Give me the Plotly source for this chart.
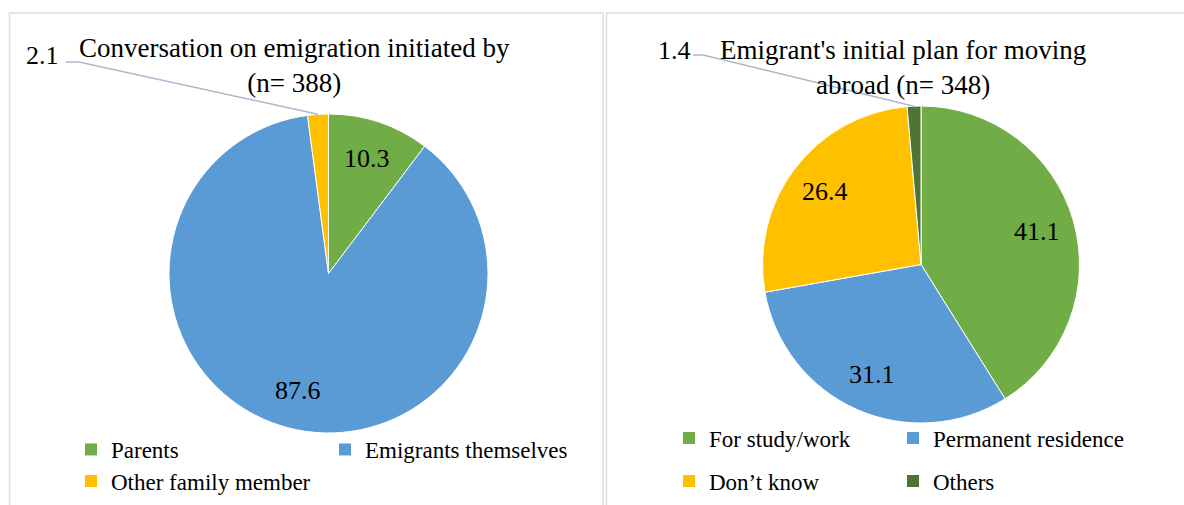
import math
import plotly.graph_objects as go

# ---- data ----
left_title = "Conversation on emigration initiated by<br>(n= 388)"
left_labels = ["Parents", "Emigrants themselves", "Other family member"]
left_values = [10.3, 87.6, 2.1]
left_colors = ["#70AD47", "#5B9BD5", "#FFC000"]

right_title = "Emigrant's initial plan for moving<br>abroad (n= 348)"
right_labels = ["For study/work", "Permanent residence", "Don’t know", "Others"]
right_values = [41.1, 31.1, 26.4, 1.4]
right_colors = ["#70AD47", "#5B9BD5", "#FFC000", "#4E7535"]

# ---- canvas ----
W, H = 1184, 505
FONT = "Liberation Serif, Times New Roman, serif"
LEADER = "#AAB8CC"
BORDER = "#DADFE7"


def px_x(x):
    return x / W


def px_y(y):
    return 1 - y / H


def pie_domain(cx, cy, r):
    return dict(x=[px_x(cx - r), px_x(cx + r)], y=[px_y(cy + r), px_y(cy - r)])


def slice_point(values, i, cx, cy, r, k):
    """Point at fraction k of the radius on the bisector of slice i
    (clockwise from 12 o'clock)."""
    total = sum(values)
    start = sum(values[:i])
    theta = (start + values[i] / 2) / total * 2 * math.pi
    return cx + k * r * math.sin(theta), cy - k * r * math.cos(theta)


fig = go.Figure()

# panel frames
shapes = [
    dict(type="rect", xref="paper", yref="paper", layer="below",
         x0=px_x(9.5), x1=px_x(603), y0=px_y(13), y1=px_y(520),
         line=dict(color=BORDER, width=1.5), fillcolor="rgba(0,0,0,0)"),
    dict(type="rect", xref="paper", yref="paper", layer="below",
         x0=px_x(606.5), x1=px_x(1200), y0=px_y(13), y1=px_y(520),
         line=dict(color=BORDER, width=1.5), fillcolor="rgba(0,0,0,0)"),
]
annotations = []

charts = [
    dict(title=left_title, labels=left_labels, values=left_values,
         colors=left_colors, cx=328.5, cy=273.5, r=159.5,
         title_xy=(294, 65), small_label_xy=(43, 56),
         leader_start=(66, 62), leader_knee=(79, 62),
         legends=[("legend", [0, 1], 71, 449.5), ("legend2", [2], 71, 481)],
         entrywidth=209),
    dict(title=right_title, labels=right_labels, values=right_values,
         colors=right_colors, cx=921, cy=264.5, r=158.5,
         title_xy=(903, 67), small_label_xy=(674, 51),
         leader_start=(693, 55), leader_knee=(703, 55),
         legends=[("legend3", [0, 1], 669, 438), ("legend4", [2, 3], 669, 481)],
         entrywidth=179),
]

for ch in charts:
    vals = ch["values"]
    fig.add_trace(go.Pie(
        labels=ch["labels"], values=vals, sort=False, direction="clockwise",
        rotation=0, domain=pie_domain(ch["cx"], ch["cy"], ch["r"]),
        marker=dict(colors=ch["colors"], line=dict(color="white", width=1)),
        textinfo="none", hoverinfo="label+value", showlegend=False,
    ))

    # chart title
    tx, ty = ch["title_xy"]
    annotations.append(dict(
        text=ch["title"], x=px_x(tx), y=px_y(ty), xref="paper", yref="paper",
        xanchor="center", yanchor="middle", showarrow=False,
        font=dict(family=FONT, size=27, color="black")))

    # value labels: large slices inside, the smallest one outside with a leader
    small = vals.index(min(vals))
    for i, v in enumerate(vals):
        if i == small:
            continue
        lx, ly = slice_point(vals, i, ch["cx"], ch["cy"], ch["r"], 0.76)
        annotations.append(dict(
            text=f"{v:.1f}", x=px_x(lx), y=px_y(ly), xref="paper", yref="paper",
            xanchor="center", yanchor="middle", showarrow=False,
            font=dict(family=FONT, size=26, color="black")))

    sx, sy = ch["small_label_xy"]
    annotations.append(dict(
        text=f"{vals[small]:.1f}", x=px_x(sx), y=px_y(sy), xref="paper",
        yref="paper", xanchor="center", yanchor="middle", showarrow=False,
        font=dict(family=FONT, size=26, color="black")))
    ex, ey = slice_point(vals, small, ch["cx"], ch["cy"], ch["r"], 1.0)
    (ax, ay), (kx, ky) = ch["leader_start"], ch["leader_knee"]
    shapes.append(dict(
        type="path", xref="paper", yref="paper",
        path=(f"M {px_x(ax)} {px_y(ay)} L {px_x(kx)} {px_y(ky)} "
              f"L {px_x(ex)} {px_y(ey)}"),
        line=dict(color=LEADER, width=1.5)))

    # legend entries, one legend per row; the last entry of a row gets
    # enough room for its full text while staying inside the page
    for legend_id, idxs, lx, ly in ch["legends"]:
        for n, i in enumerate(idxs):
            last = n == len(idxs) - 1
            fig.add_trace(go.Scatter(
                x=[None], y=[None], mode="markers", name=ch["labels"][i],
                marker=dict(symbol="square", size=12, color=ch["colors"][i]),
                legend=legend_id, showlegend=True, hoverinfo="skip",
                legendwidth=215 if last else ch["entrywidth"]))
        fig.layout[legend_id] = dict(
            orientation="h", x=px_x(lx), y=px_y(ly), xanchor="left",
            yanchor="middle", bgcolor="rgba(0,0,0,0)", borderwidth=0,
            entrywidth=ch["entrywidth"], entrywidthmode="pixels",
            font=dict(family=FONT, size=23, color="black"),
            itemclick=False, itemdoubleclick=False)

fig.update_layout(
    width=W, height=H, margin=dict(l=0, r=0, t=0, b=0),
    paper_bgcolor="white", plot_bgcolor="white",
    xaxis=dict(visible=False), yaxis=dict(visible=False),
    shapes=shapes, annotations=annotations,
)

fig.write_html("out.html")
